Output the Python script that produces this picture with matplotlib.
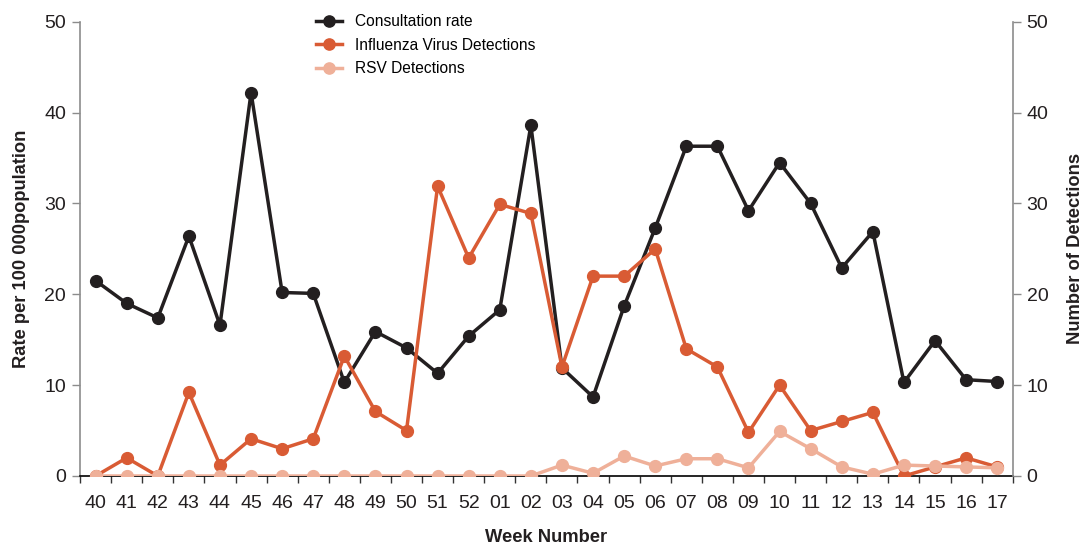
import matplotlib
matplotlib.use("Agg")
import matplotlib.pyplot as plt
import numpy as np

plt.rcParams["font.family"] = ["Liberation Sans", "DejaVu Sans"]

weeks = ["40", "41", "42", "43", "44", "45", "46", "47", "48", "49", "50", "51", "52",
         "01", "02", "03", "04", "05", "06", "07", "08", "09", "10", "11", "12", "13",
         "14", "15", "16", "17"]

consultation_rate = [21.5, 19.0, 17.4, 26.4, 16.6, 42.2, 20.2, 20.1, 10.3, 15.9, 14.1, 11.3, 15.4,
                     18.3, 38.6, 11.9, 8.7, 18.7, 27.3, 36.3, 36.3, 29.2, 34.5, 30.0, 22.9, 26.9,
                     10.3, 14.9, 10.6, 10.4]

influenza = [0, 2, 0, 9.2, 1.2, 4.1, 3.0, 4.1, 13.2, 7.1, 5.0, 31.9, 24.0,
             29.9, 28.9, 12.0, 22.0, 22.0, 25.0, 14.0, 12.0, 4.8, 10.0, 5.0, 6.0, 7.0,
             0, 1.0, 2.0, 1.0]

rsv = [0, 0, 0, 0, 0, 0, 0, 0, 0, 0, 0, 0, 0,
       0, 0, 1.2, 0.3, 2.2, 1.1, 1.9, 1.9, 0.9, 4.9, 3.0, 1.0, 0.2,
       1.2, 1.1, 1.0, 0.9]

C_RATE = "#231f20"
C_FLU = "#d95b34"
C_RSV = "#efb099"
GREY = "#8c8c8c"
TXT = "#231f20"

x = np.arange(len(weeks))

fig = plt.figure(figsize=(10.82, 5.44), dpi=100, facecolor="white")
ax = fig.add_axes([0.074, 0.125, 0.862, 0.835])
ax2 = ax.twinx()

l1, = ax.plot(x, consultation_rate, color=C_RATE, lw=2.5, marker="o", ms=8.5,
              label="Consultation rate", zorder=3)
l2, = ax2.plot(x, influenza, color=C_FLU, lw=2.5, marker="o", ms=8.5,
               label="Influenza Virus Detections", zorder=3)
l3, = ax2.plot(x, rsv, color=C_RSV, lw=2.5, marker="o", ms=8.5,
               label="RSV Detections", zorder=4)

for a in (ax, ax2):
    a.set_ylim(0, 50)
    a.set_yticks(range(0, 51, 10))
    a.set_xlim(-0.5, len(weeks) - 0.5)
    a.spines["top"].set_visible(False)
    a.tick_params(axis="y", labelsize=14, colors=TXT, length=6, width=1, color=GREY, pad=4)

ax.spines["right"].set_visible(False)
ax.spines["left"].set_color(GREY)
ax.spines["left"].set_linewidth(1.2)
ax2.spines["left"].set_visible(False)
ax2.spines["bottom"].set_visible(False)
ax2.spines["right"].set_color(GREY)
ax2.spines["right"].set_linewidth(1.2)
ax.spines["bottom"].set_color("black")
ax.spines["bottom"].set_linewidth(1.2)

# week labels at centres, tick marks on the boundaries between weeks
ax.set_xticks(x)
ax.set_xticklabels(weeks)
ax.set_xticks(np.arange(-0.5, len(weeks), 1), minor=True)
ax.tick_params(axis="x", which="major", length=0, labelsize=14, colors=TXT, pad=14)
ax.tick_params(axis="x", which="minor", length=5, width=1, color="#333333")

ax.set_ylabel("Rate per 100 000population", fontsize=13.2, fontweight="bold",
              color=TXT, labelpad=10)
ax2.set_ylabel("Number of Detections", fontsize=13.2, fontweight="bold",
               color=TXT, labelpad=13)
ax.set_xlabel("Week Number", fontsize=13.2, fontweight="bold", color=TXT, labelpad=12)

fig.legend(handles=[l1, l2, l3], loc="upper left", bbox_to_anchor=(0.279, 1.0),
           frameon=False, fontsize=11.2, handlelength=1.7, labelspacing=0.55,
           handletextpad=0.8, markerscale=0.95)

fig.savefig("out.png", dpi=100, facecolor="white")
plt.close(fig)
